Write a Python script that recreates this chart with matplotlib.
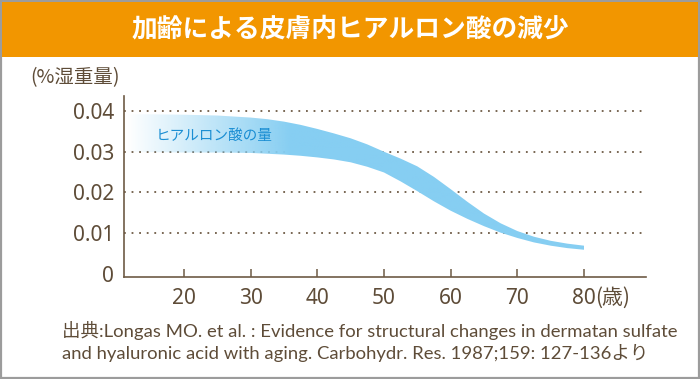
import numpy as np
import matplotlib
matplotlib.use("Agg")
import matplotlib.pyplot as plt
from matplotlib.patches import Rectangle
from matplotlib.colors import to_rgb

# values
ages = [11.5, 15, 20, 25, 30, 32.5, 35, 37.5, 40, 42.5, 45, 47.5, 50, 52.5,
        55, 57.5, 60, 62.5, 65, 67.5, 70, 72.5, 75, 77.5, 80]
upper = [0.0392, 0.0392, 0.0391, 0.0389, 0.0384, 0.0380, 0.0374, 0.0366, 0.0356,
         0.0345, 0.0333, 0.0318, 0.0300, 0.0283, 0.0264, 0.0238, 0.0208, 0.0177,
         0.0148, 0.0124, 0.0105, 0.0091, 0.0081, 0.0074, 0.0069]
lower = [0.0299, 0.0299, 0.0298, 0.0298, 0.0297, 0.0295, 0.0293, 0.0290, 0.0286,
         0.0281, 0.0274, 0.0263, 0.0249, 0.0227, 0.0203, 0.0178, 0.0155, 0.0135,
         0.0117, 0.0101, 0.0088, 0.0077, 0.0069, 0.0063, 0.0059]
xticks = [20, 30, 40, 50, 60, 70, 80]
yticks = [0, 0.01, 0.02, 0.03, 0.04]
ytick_labels = ["0", "0.01", "0.02", "0.03", "0.04"]

title = "加齢による皮膚内ヒアルロン酸の減少"
ylabel = "(%湿重量)"
xunit = "(歳)"
band_label = "ヒアルロン酸の量"
source = ["出典:Longas MO. et al. : Evidence for structural changes in dermatan sulfate",
          "and hyaluronic acid with aging. Carbohydr. Res. 1987;159: 127-136より"]

ORANGE = "#F29600"
BROWN = "#5E4C38"
AXIS = "#6E5B45"
BLUE = "#86CEF2"
CJK = ["Noto Sans CJK JP", "DejaVu Sans"]
NUM = ["Noto Sans", "Noto Sans CJK JP"]
SRC = ["Lato", "Noto Sans CJK JP"]

W, H = 700, 379
fig = plt.figure(figsize=(W / 100, H / 100), dpi=100)

# outer frame and header band
fig.patches.append(Rectangle((1 / W, 1 / H), 698 / W, 377 / H, transform=fig.transFigure,
                             fill=False, edgecolor="#9C9C9C", linewidth=1.6))
fig.patches.append(Rectangle((2 / W, 1 - 57 / H), 696 / W, 55 / H, transform=fig.transFigure,
                             facecolor=ORANGE, edgecolor="none"))
fig.text(0.5, 1 - 29 / H, title, color="white", fontsize=18.5, fontweight="bold",
         family=CJK, ha="center", va="center")

ax = fig.add_axes([124 / W, 102 / H, 522 / W, 181 / H])
ax.set_xlim(11.0, 89.3)
ax.set_ylim(-0.0008, 0.0437)

for s in ["top", "right"]:
    ax.spines[s].set_visible(False)
for s in ["left", "bottom"]:
    ax.spines[s].set_color(AXIS)
    ax.spines[s].set_linewidth(1.2)

for v in yticks[1:]:
    ax.axhline(v, color=AXIS, linestyle=(0, (1, 3.2)), linewidth=1.3, zorder=1)

# band with white -> blue gradient, clipped to the band polygon
poly = ax.fill_between(ages, lower, upper, facecolor="none", edgecolor="none", zorder=2)
xs = np.linspace(ages[0], ages[-1], 400)
alpha = np.clip((xs - ages[0]) / (36 - ages[0]), 0, 1)
img = np.zeros((2, len(xs), 4))
img[..., :3] = to_rgb(BLUE)
img[..., 3] = alpha
im = ax.imshow(img, extent=[ages[0], ages[-1], min(lower), max(upper)], aspect="auto",
               origin="lower", zorder=2, interpolation="bilinear")
im.set_clip_path(poly.get_paths()[0], transform=ax.transData)

ax.text(15.7, 0.0340, band_label, color="#1B8ED3", fontsize=10.5, family=CJK,
        ha="left", va="center", zorder=3)

ax.set_xticks(xticks)
ax.set_xticklabels([str(t) for t in xticks], family=NUM, fontsize=15, color=BROWN)
ax.set_yticks(yticks)
ax.set_yticklabels(ytick_labels, family=NUM, fontsize=15, color=BROWN)
ax.tick_params(axis="x", direction="in", length=6, width=1.1, color=AXIS, pad=8)
ax.tick_params(axis="y", length=0, pad=7)

fig.text(595 / W, 1 - 298 / H, xunit, family=CJK, fontsize=15, color=BROWN,
         ha="left", va="center")
fig.text(30 / W, 1 - 78 / H, ylabel, family=CJK, fontsize=14, color=BROWN,
         ha="left", va="center")

for i, line in enumerate(source):
    fig.text(62 / W, 1 - (331 + 22 * i) / H, line, family=SRC,
             fontsize=13.3, color=BROWN, ha="left", va="center")

fig.savefig("out.png", dpi=100)
